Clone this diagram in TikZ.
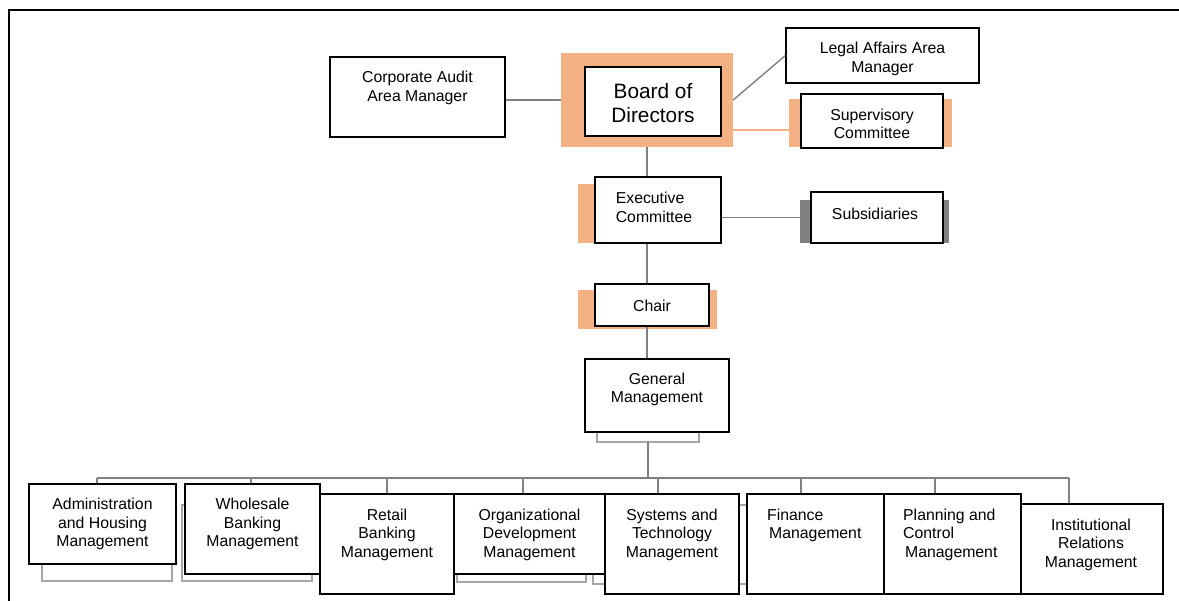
\documentclass[tikz,border=0pt]{standalone}
\usepackage{fontspec}
\setmainfont{Liberation Sans}
\definecolor{orbg}{HTML}{F4B183}
\definecolor{conng}{HTML}{808080}
\definecolor{shadg}{HTML}{A6A6A6}
\tikzset{
  box/.style={draw=black, fill=white, line width=1.3bp, inner sep=0pt},
  bgrect/.style={fill=orbg, draw=none, inner sep=0pt},
  grayrect/.style={fill=conng, draw=none, inner sep=0pt},
  shadow/.style={draw=shadg, line width=1.3bp},
  conn/.style={draw=conng, line width=1.4bp},
  orconn/.style={draw=orbg, line width=1.4bp},
  lbl/.style={font=\fontsize{15.8bp}{18.5bp}\selectfont, align=center, inner sep=0pt, yshift=-1.5bp},
  lbll/.style={font=\fontsize{15.8bp}{18.5bp}\selectfont, align=left, inner sep=0pt, yshift=-1.5bp},
  biglbl/.style={font=\fontsize{20.8bp}{24.5bp}\selectfont, align=center, inner sep=0pt, yshift=-1.5bp},
  wh/.style 2 args={minimum width=#1bp, minimum height=#2bp},
}
\begin{document}
\begin{tikzpicture}[x=1bp, y=-1bp]
\useasboundingbox (0,0) rectangle (1179,601);
% frame
\draw[line width=1.5bp] (9,601) -- (9,10) -- (1179,10);

% ---- top level ----
\node[box, wh={175}{80}] (audit) at (417.5,97) {};
\node[lbl] (audittxt) at (417.5,86.5) {Corporate Audit\\Area Manager};

\node[bgrect, wh={172}{94}] (boardbg) at (647,100) {};
\node[box, wh={136}{69}] (board) at (653,101.5) {};
\node[biglbl] (boardtxt) at (653,101.5) {Board of\\Directors};

\node[box, wh={193}{55}] (legal) at (882.5,55.5) {};
\node[lbl] (legaltxt) at (882.5,57.5) {Legal Affairs Area\\Manager};

\node[bgrect, wh={163}{48}] (supbg) at (870.5,123) {};
\node[box, wh={142}{54}] (sup) at (872,121) {};
\node[lbl] (suptxt) at (872,122.5) {Supervisory\\Committee};

\coordinate (supy) at (761,130);
\draw[conn] (audit.east |- boardbg.west) -- (boardbg.west);
\draw[conn] (boardbg.east) -- (legal.west);
\draw[orconn] (boardbg.east |- supy) -- (supbg.west |- supy);

% ---- executive ----
\node[bgrect, wh={100}{59}] (execbg) at (628,213.5) {};
\node[box, wh={126}{66}] (exec) at (658,210) {};
\node[lbll] (exectxt) at (654,206) {Executive\\Committee};

\node[grayrect, wh={149}{43}] (subsbg) at (874.5,221.5) {};
\node[box, wh={132}{51}] (subs) at (877,217.5) {};
\node[lbl] (substxt) at (875,212) {Subsidiaries};

\draw[conn] (boardbg.south) -- (boardbg.south |- exec.north);
\draw[conn] (exec.east |- subs.west) -- (subsbg.west |- subs.west);

% ---- chair ----
\node[bgrect, wh={139}{39}] (chairbg) at (647.5,309.5) {};
\node[box, wh={114}{42}] (chair) at (652,305) {};
\node[lbl] (chairtxt) at (652,304) {Chair};

\draw[conn] (boardbg.south |- exec.south) -- (boardbg.south |- chair.north);

% ---- general management ----
\draw[shadow] (597,420) rectangle (699,442);
\node[box, wh={144}{73}] (gm) at (657,395.5) {};
\node[lbl] (gmtxt) at (657,388) {General\\Management};

\draw[conn] (boardbg.south |- chair.south) -- (boardbg.south |- gm.north);

\coordinate (busl) at (97,478);
\coordinate (busr) at (1069,478);
\coordinate (gmdrop) at (648,442);
\draw[conn] (gmdrop) -- (gmdrop |- busl);
\draw[conn] (busl) -- (busr);

% ---- shadows of bottom boxes ----
\draw[shadow] (42,540) rectangle (172,581);
\draw[shadow] (182,505) rectangle (312,581);
\draw[shadow] (457,540) rectangle (586,582);
\draw[shadow] (593,505) rectangle (747,584);

% ---- bottom boxes ----
\node[box, wh={147}{80}] (admin) at (102.5,524) {};
\node[lbl] (admintxt) at (102.5,522.5) {Administration\\and Housing\\Management};

\node[box, wh={135}{90}] (whole) at (252.5,529) {};
\node[lbl] (wholetxt) at (252.5,522.5) {Wholesale\\Banking\\Management};

\node[box, wh={134}{100}] (retail) at (387,544) {};
\node[lbl] (retailtxt) at (387,533) {Retail\\Banking\\Management};

\node[box, wh={151}{80}] (org) at (529.5,534) {};
\node[lbl] (orgtxt) at (529.5,533) {Organizational\\Development\\Management};

\node[box, wh={134}{100}] (sys) at (672,544) {};
\node[lbl] (systxt) at (672,533) {Systems and\\Technology\\Management};

\node[box, wh={137}{100}] (fin) at (815.5,544) {};
\node[lbll, anchor=west] (fintxt) at (767,524) {Finance\\\hspace*{2bp}Management};

\node[box, wh={137}{100}] (plan) at (952.5,544) {};
\node[lbll, anchor=west] (plantxt) at (903,533) {Planning and\\Control\\\hspace*{2bp}Management};

\node[box, wh={142}{90}] (inst) at (1092,549) {};
\node[lbl] (insttxt) at (1091,543) {Institutional\\Relations\\Management};

% drops
\coordinate (d1) at (97,478);
\coordinate (d2) at (251,478);
\coordinate (d3) at (387,478);
\coordinate (d4) at (523,478);
\coordinate (d5) at (658,478);
\coordinate (d6) at (801,478);
\coordinate (d7) at (935,478);
\coordinate (d8) at (1069,478);
\draw[conn] (d1) -- (d1 |- admin.north);
\draw[conn] (d2) -- (d2 |- whole.north);
\draw[conn] (d3) -- (d3 |- retail.north);
\draw[conn] (d4) -- (d4 |- org.north);
\draw[conn] (d5) -- (d5 |- sys.north);
\draw[conn] (d6) -- (d6 |- fin.north);
\draw[conn] (d7) -- (d7 |- plan.north);
\draw[conn] (d8) -- (d8 |- inst.north);
\end{tikzpicture}
\end{document}
